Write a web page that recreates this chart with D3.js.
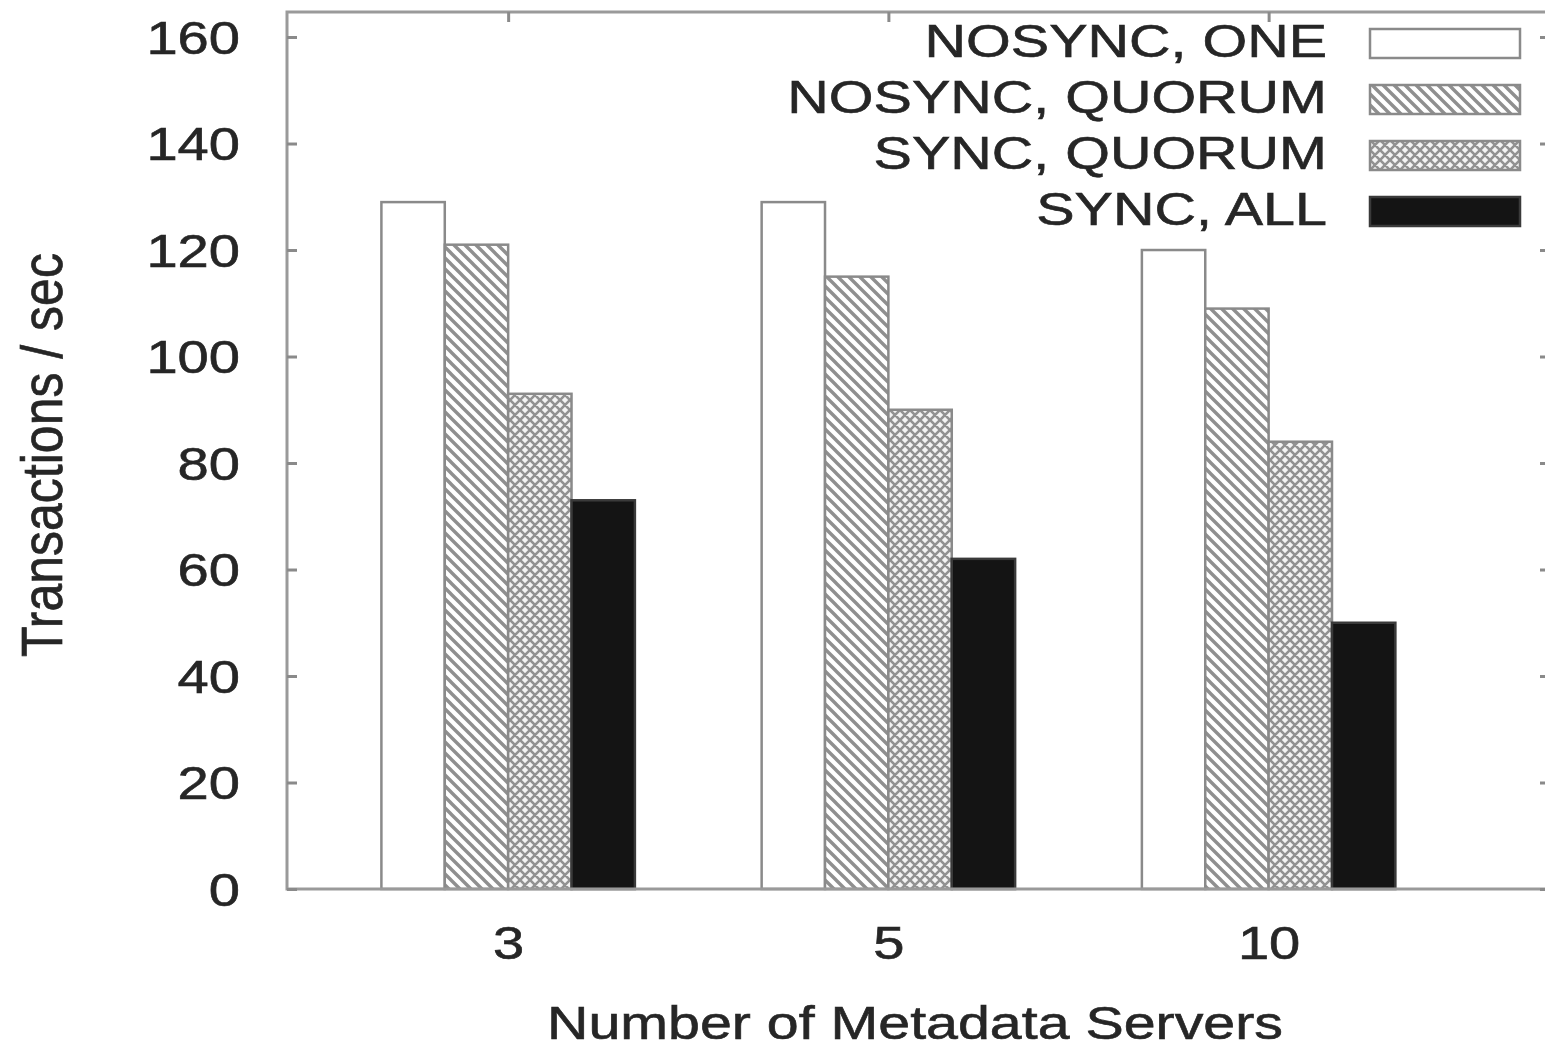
<!DOCTYPE html>
<html>
<head>
<meta charset="utf-8">
<script src="https://cdn.jsdelivr.net/npm/d3@7"></script>
<style>
  html, body { margin: 0; padding: 0; background: #fff; }
  svg { display: block; }
  text { font-family: "Liberation Sans", Arial, Helvetica, sans-serif; fill: #262626; stroke: #262626; stroke-width: 0.6; }
</style>
</head>
<body>
<svg id="chart" width="1545" height="1048"></svg>
<script>
// Throughput per configuration, by number of metadata servers
const categories = ["3", "5", "10"];
const seriesNames = ["NOSYNC, ONE", "NOSYNC, QUORUM", "SYNC, QUORUM", "SYNC, ALL"];
const nosyncOne = [129, 129, 120];
const nosyncQuorum = [121, 115, 109];
const syncQuorum = [93, 90, 84];
const syncAll = [73, 62, 50];
const yTicks = [0, 20, 40, 60, 80, 100, 120, 140, 160];
const xTitle = "Number of Metadata Servers";
const yTitle = "Transactions / sec";

const series = [nosyncOne, nosyncQuorum, syncQuorum, syncAll];

const svg = d3.select("#chart");
const frame = { left: 287, right: 1550, top: 12, bottom: 889 };
const stretch = 1.22;       // wide glyphs
const fontSize = 46;

// Group positions: one unit per cluster, 4 bars + 2 bars of gap
const x = d3.scaleLinear().domain([-0.5816, 2.74]).range([frame.left, frame.right]);
const y = d3.scaleLinear().domain([0, 164.7]).range([frame.bottom, frame.top]);
const barW = (x(1) - x(0)) / 6;

// Fill patterns
const defs = svg.append("defs");
const hatch = defs.append("pattern")
  .attr("id", "hatch").attr("patternUnits", "userSpaceOnUse")
  .attr("width", 11).attr("height", 11);
hatch.append("rect").attr("width", 11).attr("height", 11).attr("fill", "#fff");
hatch.append("path").attr("d", "M-5.5,-5.5 L16.5,16.5 M-5.5,5.5 L5.5,16.5 M5.5,-5.5 L16.5,5.5")
  .attr("stroke", "#8f8f8f").attr("stroke-width", 3.4);

const cross = defs.append("pattern")
  .attr("id", "cross").attr("patternUnits", "userSpaceOnUse")
  .attr("width", 10).attr("height", 10);
cross.append("rect").attr("width", 10).attr("height", 10).attr("fill", "#f4f4f4");
cross.append("path").attr("d", "M0,0 L10,10 M10,0 L0,10 M-5,5 L5,15 M5,-5 L15,5 M5,-5 L-5,5 M15,5 L5,15")
  .attr("stroke", "#929292").attr("stroke-width", 2.6);

const fills = ["#ffffff", "url(#hatch)", "url(#cross)", "#141414"];
const strokes = ["#8a8a8a", "#8a8a8a", "#8a8a8a", "#3a3a3a"];

// Bars
const barsG = svg.append("g");
series.forEach((vals, s) => {
  barsG.selectAll(null).data(vals).enter().append("rect")
    .attr("x", (d, i) => x(i) + (s - 2) * barW)
    .attr("y", d => y(d))
    .attr("width", barW)
    .attr("height", d => y(0) - y(d))
    .attr("fill", fills[s])
    .attr("stroke", strokes[s])
    .attr("stroke-width", 2.5);
});

// Frame
svg.append("rect")
  .attr("x", frame.left).attr("y", frame.top)
  .attr("width", frame.right - frame.left).attr("height", frame.bottom - frame.top)
  .attr("fill", "none").attr("stroke", "#9a9a9a").attr("stroke-width", 3);

// Left axis: ticks point inward, labels outside
const yAxis = svg.append("g")
  .attr("transform", `translate(${frame.left},0)`)
  .call(d3.axisLeft(y).tickValues(yTicks).tickSizeInner(-10).tickSizeOuter(0));
yAxis.select(".domain").remove();
yAxis.selectAll(".tick line").attr("stroke", "#8a8a8a").attr("stroke-width", 3);
yAxis.selectAll(".tick text")
  .attr("x", 0).attr("dy", null)
  .attr("transform", `translate(-47,16) scale(${stretch},1)`)
  .attr("font-size", fontSize).attr("text-anchor", "end").attr("fill", "#262626");

// Right axis mirror ticks
const yAxisR = svg.append("g")
  .attr("transform", `translate(${frame.right},0)`)
  .call(d3.axisRight(y).tickValues(yTicks).tickSizeInner(-10).tickSizeOuter(0).tickFormat(""));
yAxisR.select(".domain").remove();
yAxisR.selectAll(".tick line").attr("stroke", "#8a8a8a").attr("stroke-width", 3);

// Top axis mirror ticks at group centres
const xIdx = categories.map((c, i) => i);
const xAxisT = svg.append("g")
  .attr("transform", `translate(0,${frame.top})`)
  .call(d3.axisTop(x).tickValues(xIdx).tickSizeInner(-10).tickSizeOuter(0).tickFormat(""));
xAxisT.select(".domain").remove();
xAxisT.selectAll(".tick line").attr("stroke", "#8a8a8a").attr("stroke-width", 3);

// Bottom axis labels
const xAxisB = svg.append("g")
  .attr("transform", `translate(0,${frame.bottom})`)
  .call(d3.axisBottom(x).tickValues(xIdx).tickSizeInner(0).tickSizeOuter(0)
    .tickFormat(i => categories[i]));
xAxisB.select(".domain").remove();
xAxisB.selectAll(".tick text")
  .attr("y", 0).attr("dy", null)
  .attr("transform", `translate(0,70) scale(${stretch},1)`)
  .attr("font-size", fontSize).attr("text-anchor", "middle").attr("fill", "#262626");

// Axis titles
svg.append("text")
  .attr("transform", `translate(915,1039) scale(${stretch},1)`)
  .attr("text-anchor", "middle").attr("font-size", 47)
  .text(xTitle);
svg.append("text")
  .attr("transform", `translate(62,455) rotate(-90) scale(1,1.15)`)
  .attr("text-anchor", "middle").attr("font-size", 50)
  .text(yTitle);

// Legend
const legend = svg.append("g");
seriesNames.forEach((name, s) => {
  const cy = 43 + s * 56;
  legend.append("text")
    .attr("transform", `translate(1327,${cy + 14}) scale(1.25,1)`)
    .attr("text-anchor", "end").attr("font-size", fontSize)
    .text(name);
  legend.append("rect")
    .attr("x", 1370).attr("y", cy - 14)
    .attr("width", 150).attr("height", 29)
    .attr("fill", fills[s]).attr("stroke", strokes[s]).attr("stroke-width", 2.5);
});
</script>
</body>
</html>
